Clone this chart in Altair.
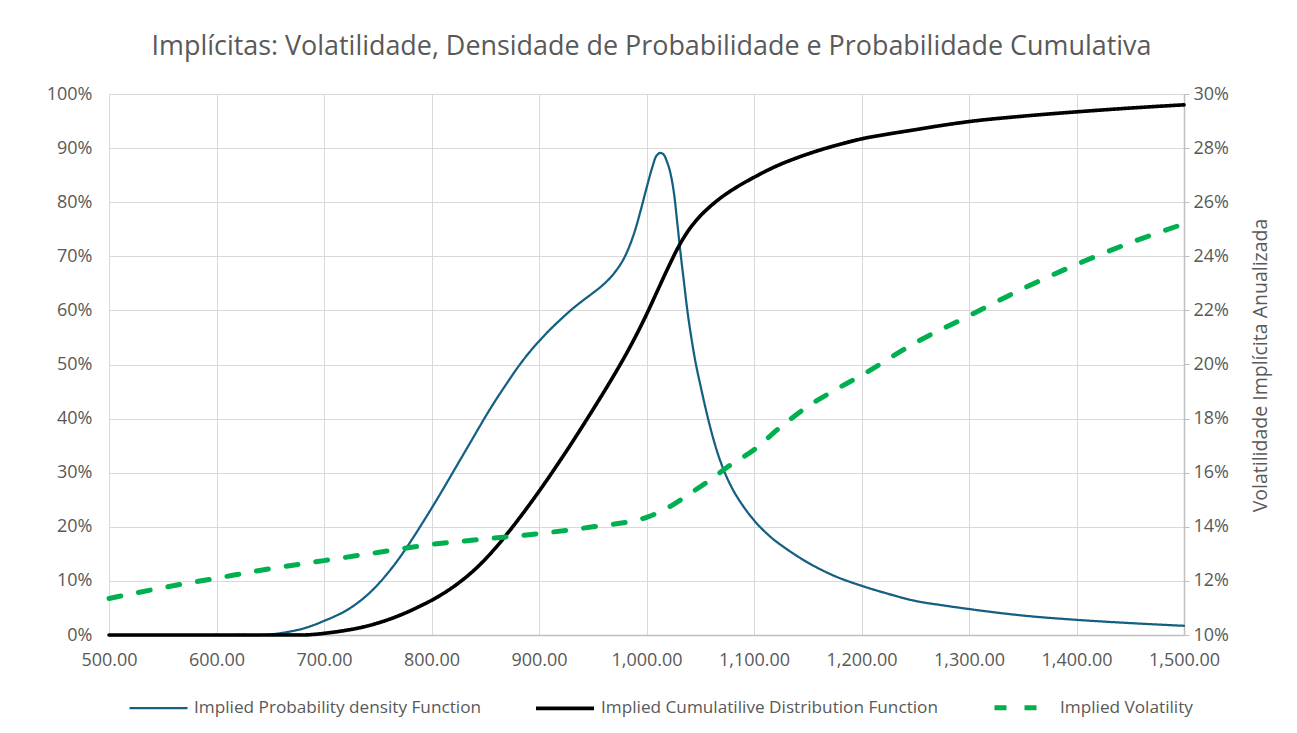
import altair as alt
import pandas as pd

S_PDF = "Implied Probability density Function"
S_CDF = "Implied Cumulatilive Distribution Function"
S_VOL = "Implied Volatility"

pdf_x = [500, 550, 600, 640, 650, 660, 670, 680, 690, 700, 710, 720, 730, 740, 750, 760, 770, 780,
         790, 800, 810, 820, 830, 840, 850, 860, 870, 880, 890, 900, 910, 920, 930, 940, 950, 960,
         970, 980, 985, 990, 995, 1000, 1005, 1009, 1013, 1016, 1019, 1022, 1026, 1029, 1032, 1035,
         1038, 1042, 1046, 1050, 1057, 1064, 1072, 1080, 1090, 1100, 1115, 1131, 1150, 1175, 1200,
         1225, 1250, 1275, 1300, 1350, 1400, 1450, 1500]
pdf_y = [0, 0, 0, 0, 0.1, 0.35, 0.7, 1.15, 1.8, 2.6, 3.45, 4.45, 5.75, 7.35, 9.3, 11.6, 14.2, 17.1,
         20.2, 23.4, 26.7, 30.1, 33.5, 36.9, 40.3, 43.5, 46.5, 49.4, 52.0, 54.3, 56.4, 58.3, 60.1,
         61.7, 63.2, 64.8, 66.9, 70.0, 72.3, 75.2, 78.8, 82.6, 86.2, 88.5, 89.1, 88.8, 87.5, 85.6,
         81.0, 75.5, 70.0, 65.0, 60.0, 54.6, 50.0, 46.3, 40.2, 35.0, 30.4, 27.0, 23.8, 21.2, 18.2,
         15.8, 13.4, 10.9, 9.1, 7.6, 6.3, 5.5, 4.8, 3.6, 2.8, 2.2, 1.7]

cdf_x = [500, 550, 600, 650, 680, 690, 700, 710, 720, 730, 740, 750, 760, 770, 780, 790, 800, 810,
         820, 830, 840, 850, 860, 870, 880, 890, 900, 910, 920, 930, 940, 950, 960, 970, 980, 990,
         1000, 1010, 1020, 1030, 1040, 1050, 1060, 1070, 1080, 1090, 1100, 1120, 1140, 1160, 1180,
         1200, 1225, 1250, 1275, 1300, 1350, 1400, 1450, 1500]
cdf_y = [0, 0, 0, 0, 0, 0.1, 0.3, 0.55, 0.85, 1.2, 1.65, 2.2, 2.85, 3.6, 4.45, 5.4, 6.4, 7.55,
         8.85, 10.35, 12.05, 14.0, 16.2, 18.6, 21.15, 23.8, 26.55, 29.4, 32.35, 35.35, 38.45, 41.6,
         44.8, 48.1, 51.55, 55.25, 59.25, 63.55, 67.85, 71.85, 75.05, 77.45, 79.35, 80.95, 82.3,
         83.5, 84.6, 86.6, 88.2, 89.55, 90.7, 91.7, 92.6, 93.4, 94.2, 94.9, 95.9, 96.7, 97.4, 98.0]

vol_x = [500, 550, 600, 650, 700, 750, 800, 850, 900, 950, 1000, 1015, 1030, 1045, 1060, 1075,
         1100, 1125, 1150, 1175, 1200, 1250, 1300, 1350, 1400, 1450, 1500]
vol_y = [11.35, 11.75, 12.1, 12.45, 12.75, 13.05, 13.35, 13.55, 13.75, 14.0, 14.35, 14.6, 14.95,
         15.35, 15.75, 16.2, 16.85, 17.7, 18.45, 19.05, 19.6, 20.8, 21.8, 22.8, 23.7, 24.5, 25.2]

x_ticks = [500, 600, 700, 800, 900, 1000, 1100, 1200, 1300, 1400, 1500]
left_ticks = [i / 10 for i in range(11)]
right_ticks = [0.10, 0.12, 0.14, 0.16, 0.18, 0.20, 0.22, 0.24, 0.26, 0.28, 0.30]

series = [S_PDF, S_CDF, S_VOL]
colors = ["#156082", "#000000", "#00B050"]
dashes = [[1, 0], [1, 0], [12, 18]]
widths = [2.25, 5, 4]

df_left = pd.concat([
    pd.DataFrame({"strike": pdf_x, "value": [v / 100 for v in pdf_y], "series": S_PDF}),
    pd.DataFrame({"strike": cdf_x, "value": [v / 100 for v in cdf_y], "series": S_CDF}),
])
df_vol = pd.DataFrame({"strike": vol_x, "value": [v / 100 for v in vol_y], "series": S_VOL})

FONT = "Open Sans"
GREY = "#595959"

legend = alt.Legend(
    title=None, orient="none", legendX=19, legendY=582, direction="horizontal",
    symbolType="stroke", symbolSize=3364, labelFontSize=17.2, labelColor=GREY, labelFont=FONT,
    columnPadding=46, labelOffset=5, labelLimit=500,
)

xenc = alt.X("strike:Q", scale=alt.Scale(domain=[500, 1500], nice=False),
             axis=alt.Axis(values=x_ticks, format=",.2f", title=None, ticks=False, tickSize=0,
                           labelPadding=16, domainColor="#bfbfbf", domainWidth=1.5,
                           gridColor="#d9d9d9", labelFlush=False))
color = alt.Color("series:N", scale=alt.Scale(domain=series, range=colors), legend=legend)
dash = alt.StrokeDash("series:N", scale=alt.Scale(domain=series, range=dashes), legend=legend)
width = alt.StrokeWidth("series:N", scale=alt.Scale(domain=series, range=widths), legend=legend)

left = alt.Chart(df_left).mark_line(interpolate="monotone", strokeCap="round", strokeJoin="round").encode(
    x=xenc,
    y=alt.Y("value:Q", scale=alt.Scale(domain=[0, 1], nice=False),
            axis=alt.Axis(values=left_ticks, format=".0%", title=None, ticks=False, tickSize=0,
                          domain=False, labelPadding=17, gridColor="#d9d9d9")),
    color=color, strokeDash=dash, strokeWidth=width,
)

right = alt.Chart(df_vol).mark_line(interpolate="monotone", strokeCap="round", strokeJoin="round").encode(
    x=xenc,
    y=alt.Y("value:Q", scale=alt.Scale(domain=[0.10, 0.30], nice=False),
            axis=alt.Axis(orient="right", values=right_ticks, format=".0%",
                          title="Volatilidade Implícita Anualizada", grid=False,
                          ticks=True, tickSize=5, tickColor="#bfbfbf", domainColor="#bfbfbf",
                          domainWidth=1.5, labelPadding=4, titleAngle=270, titleX=76, titleY=271,
                          titleBaseline="middle", titleAlign="center", titleFontSize=19.5,
                          titleFont=FONT, titleColor=GREY, titleFontWeight="normal")),
    color=color, strokeDash=dash, strokeWidth=width,
)

chart = alt.layer(left, right).resolve_scale(y="independent").properties(
    width=1075, height=541,
    autosize=alt.AutoSizeParams(type="none"),
    padding={"left": 101, "top": 86, "right": 105, "bottom": 88},
    background="white",
    title=alt.TitleParams(
        "Implícitas: Volatilidade, Densidade de Probabilidade e Probabilidade Cumulativa",
        anchor="middle", fontSize=26.9, font=FONT, color=GREY, fontWeight="normal", offset=24, dx=5),
).configure(
    axis=alt.AxisConfig(labelFont=FONT, labelFontSize=18, labelColor=GREY),
    view=alt.ViewConfig(strokeWidth=0),
)

chart.save("out.html", embed_options={"renderer": "svg", "actions": False})
